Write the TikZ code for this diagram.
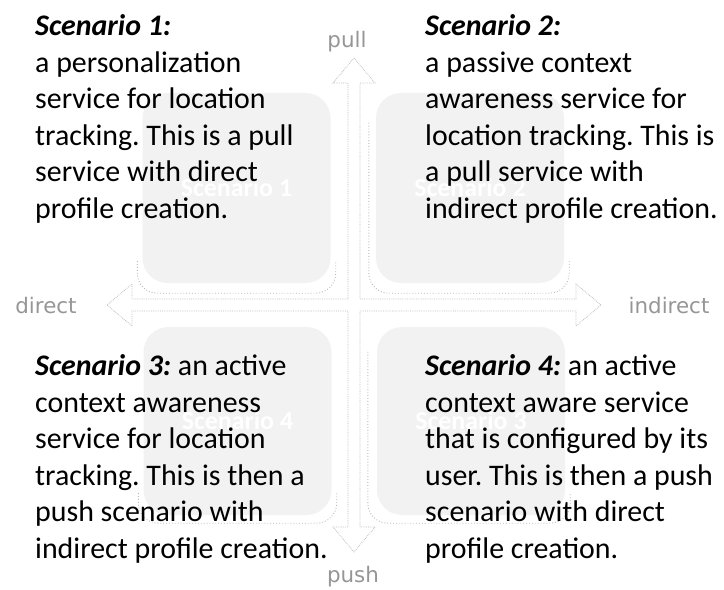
\documentclass[tikz,border=0pt]{standalone}
\usepackage{fontspec}
\usepackage{xcolor}
\setmainfont{Carlito}
\newfontfamily\axisfont{DejaVu Sans}
\definecolor{boxgray}{RGB}{242,242,242}
\definecolor{axisgray}{RGB}{150,150,150}
\frenchspacing

\begin{document}
\begin{tikzpicture}[x=1bp,y=-1bp,
  scenbox/.style={rectangle, rounded corners=25bp, fill=boxgray, minimum width=188bp, minimum height=190bp, inner sep=0pt, text=white, font=\fontsize{26}{30}\selectfont\bfseries},
  axislabel/.style={text=axisgray, inner sep=0pt, font=\axisfont\fontsize{21.5}{24}\selectfont},
  axisrim/.style={draw=gray!50, densely dotted, line width=0.8bp},
  rim/.style={draw=gray!55, dotted, line width=0.9bp, rounded corners=20bp},
  story/.style={anchor=base west, align=left, inner sep=0pt, font=\fontsize{30}{36.7}\selectfont}]
\useasboundingbox (0,0) rectangle (724,590);

% Four-way arrow
\coordinate (c) at (354,305);
\begin{scope}[shift={(c)}]
\draw[axisrim] (0,-247) -- (21,-222) -- (6,-222) -- (6,-6) -- (222,-6) -- (222,-21) -- (247,0)
  -- (222,21) -- (222,6) -- (6,6) -- (6,222) -- (21,222) -- (0,247) -- (-21,222) -- (-6,222)
  -- (-6,6) -- (-222,6) -- (-222,21) -- (-247,0) -- (-222,-21) -- (-222,-6) -- (-6,-6)
  -- (-6,-222) -- (-21,-222) -- cycle;
\end{scope}
\node[axislabel] (pull) at (347,42) {pull};
\node[axislabel] (push) at (353,577) {push};
\node[axislabel] (direct) at (46,306) {direct};
\node[axislabel] (indirect) at (669,306) {indirect};

% Quadrants
\node[scenbox] (q1) at (236.5,188) {Scenario 1};
\node[scenbox] (q2) at (470,188) {Scenario 2};
\node[scenbox, minimum height=188bp] (q4) at (237.5,421) {Scenario 4};
\node[scenbox, minimum height=188bp] (q3) at (471,421) {Scenario 3};

% dotted rims under the quadrants
\draw[rim] ([shift={(-5,-22)}]q1.south west) -- ([shift={(-5,10)}]q1.south west)
  -- ([shift={(5,10)}]q1.south east) -- ([shift={(5,-22)}]q1.south east);
\draw[rim] ([shift={(-7,30)}]q2.north west) -- ([shift={(-7,10)}]q2.south west)
  -- ([shift={(5,10)}]q2.south east) -- ([shift={(5,-22)}]q2.south east);
\draw[rim] ([shift={(-5,-22)}]q4.south west) -- ([shift={(-5,8)}]q4.south west)
  -- ([shift={(5,8)}]q4.south east) -- ([shift={(5,-22)}]q4.south east);
\draw[rim] ([shift={(-9,25)}]q3.north west) -- ([shift={(-9,8)}]q3.south west)
  -- ([shift={(5,8)}]q3.south east) -- ([shift={(5,-22)}]q3.south east);

% Scenario texts (placed by the baseline of their last line)
\node[story] (t1) at (35,218.5) {\textbf{\textit{Scenario 1:}}\\a personalization\\service for location\\tracking. This is a pull\\service with direct\\profile creation.};
\node[story] (t2) at (425,218.5) {\textbf{\textit{Scenario 2:}}\\a passive context\\awareness service for\\location tracking. This is\\a pull service with\\indirect profile creation.};
\node[story] (t3) at (35,558.5) {\textbf{\textit{Scenario 3:}} an active\\context awareness\\service for location\\tracking. This is then a\\push scenario with\\indirect profile creation.};
\node[story] (t4) at (425,558.5) {\textbf{\textit{Scenario 4:}} an active\\context aware service\\that is configured by its\\user. This is then a push\\scenario with direct\\profile creation.};
\end{tikzpicture}
\end{document}
